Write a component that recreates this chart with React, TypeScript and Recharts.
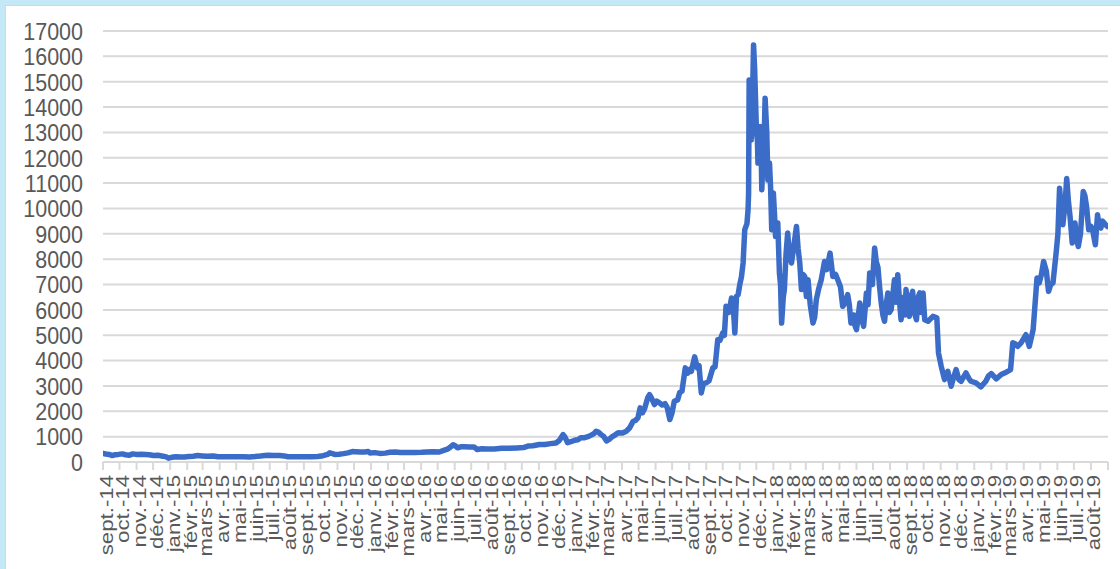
import React from 'react';
import { LineChart, Line, XAxis, YAxis, CartesianGrid } from 'recharts';

const tickLabels: string[] = [
  'sept.-14', 'oct.-14', 'nov.-14', 'déc.-14',
  'janv.-15', 'févr.-15', 'mars-15', 'avr.-15', 'mai-15', 'juin-15', 'juil.-15', 'août-15', 'sept.-15', 'oct.-15', 'nov.-15', 'déc.-15',
  'janv.-16', 'févr.-16', 'mars-16', 'avr.-16', 'mai-16', 'juin-16', 'juil.-16', 'août-16', 'sept.-16', 'oct.-16', 'nov.-16', 'déc.-16',
  'janv.-17', 'févr.-17', 'mars-17', 'avr.-17', 'mai-17', 'juin-17', 'juil.-17', 'août-17', 'sept.-17', 'oct.-17', 'nov.-17', 'déc.-17',
  'janv.-18', 'févr.-18', 'mars-18', 'avr.-18', 'mai-18', 'juin-18', 'juil.-18', 'août-18', 'sept.-18', 'oct.-18', 'nov.-18', 'déc.-18',
  'janv.-19', 'févr.-19', 'mars-19', 'avr.-19', 'mai-19', 'juin-19', 'juil.-19', 'août-19',
];

const yTicks: number[] = [0, 1000, 2000, 3000, 4000, 5000, 6000, 7000, 8000, 9000, 10000, 11000, 12000, 13000, 14000, 15000, 16000, 17000];

const prices2014: [string, number][] = [
  ['2014-09-17', 340], ['2014-09-22', 315], ['2014-09-28', 300], ['2014-10-04', 255], ['2014-10-09', 290],
  ['2014-10-15', 300], ['2014-10-22', 320], ['2014-10-28', 285], ['2014-11-04', 265], ['2014-11-10', 320],
  ['2014-11-18', 300], ['2014-11-25', 305], ['2014-12-03', 300], ['2014-12-10', 285], ['2014-12-18', 255],
  ['2014-12-26', 265],
];

const prices2015: [string, number][] = [
  ['2015-01-04', 230], ['2015-01-10', 200], ['2015-01-14', 150], ['2015-01-20', 185], ['2015-01-27', 210],
  ['2015-02-04', 195], ['2015-02-12', 200], ['2015-02-20', 215], ['2015-02-28', 225], ['2015-03-08', 255],
  ['2015-03-16', 240], ['2015-03-25', 225], ['2015-04-05', 235], ['2015-04-14', 205], ['2015-04-25', 210],
  ['2015-05-06', 210], ['2015-05-18', 210], ['2015-05-30', 205], ['2015-06-10', 200], ['2015-06-20', 215],
  ['2015-06-30', 235], ['2015-07-08', 255], ['2015-07-14', 265], ['2015-07-24', 260], ['2015-08-04', 255],
  ['2015-08-12', 240], ['2015-08-19', 205], ['2015-08-28', 205], ['2015-09-08', 210], ['2015-09-20', 205],
  ['2015-10-01', 210], ['2015-10-12', 220], ['2015-10-22', 250], ['2015-10-30', 300], ['2015-11-03', 360],
  ['2015-11-08', 330], ['2015-11-12', 300], ['2015-11-20', 305], ['2015-11-28', 330], ['2015-12-06', 360],
  ['2015-12-14', 410], ['2015-12-20', 405], ['2015-12-28', 390],
];

const prices2016: [string, number][] = [
  ['2016-01-05', 395], ['2016-01-12', 410], ['2016-01-15', 355], ['2016-01-24', 370], ['2016-02-02', 340],
  ['2016-02-12', 350], ['2016-02-20', 385], ['2016-03-01', 395], ['2016-03-10', 375], ['2016-03-22', 370],
  ['2016-04-05', 375], ['2016-04-18', 380], ['2016-04-28', 395], ['2016-05-08', 400], ['2016-05-20', 395],
  ['2016-05-28', 460], ['2016-06-05', 520], ['2016-06-10', 600], ['2016-06-14', 680], ['2016-06-19', 620],
  ['2016-06-22', 560], ['2016-06-28', 600], ['2016-07-05', 600], ['2016-07-14', 590], ['2016-07-22', 595],
  ['2016-07-28', 490], ['2016-08-05', 520], ['2016-08-15', 510], ['2016-08-28', 510], ['2016-09-10', 540],
  ['2016-09-24', 540], ['2016-10-08', 555], ['2016-10-20', 570], ['2016-10-28', 630], ['2016-11-06', 640],
  ['2016-11-18', 690], ['2016-11-28', 690], ['2016-12-08', 725], ['2016-12-18', 750], ['2016-12-24', 850],
  ['2016-12-31', 1080],
];

const prices2017: [string, number][] = [
  ['2017-01-03', 1000], ['2017-01-08', 760], ['2017-01-14', 800], ['2017-01-21', 860], ['2017-01-27', 880],
  ['2017-02-01', 953], ['2017-02-08', 960], ['2017-02-14', 1000], ['2017-02-20', 1060], ['2017-02-25', 1120],
  ['2017-03-01', 1214], ['2017-03-05', 1180], ['2017-03-09', 1100], ['2017-03-15', 1000], ['2017-03-20', 830],
  ['2017-03-25', 900], ['2017-03-29', 980], ['2017-04-04', 1060], ['2017-04-10', 1150], ['2017-04-17', 1140],
  ['2017-04-25', 1214], ['2017-05-01', 1350], ['2017-05-07', 1600], ['2017-05-12', 1650], ['2017-05-16', 1750],
  ['2017-05-20', 2135], ['2017-05-24', 1940], ['2017-05-28', 2100], ['2017-06-03', 2550], ['2017-06-06', 2660],
  ['2017-06-10', 2500], ['2017-06-15', 2265], ['2017-06-19', 2400], ['2017-06-24', 2332], ['2017-06-29', 2250],
  ['2017-07-04', 2300], ['2017-07-08', 2150], ['2017-07-13', 1675], ['2017-07-17', 1950], ['2017-07-21', 2396],
  ['2017-07-27', 2450], ['2017-07-31', 2750], ['2017-08-04', 2800], ['2017-08-10', 3712], ['2017-08-14', 3500],
  ['2017-08-18', 3650], ['2017-08-21', 3578], ['2017-08-27', 4145], ['2017-09-01', 3700], ['2017-09-04', 3800],
  ['2017-09-08', 2726], ['2017-09-12', 3100], ['2017-09-17', 3120], ['2017-09-22', 3200], ['2017-09-29', 3712],
  ['2017-10-03', 3750], ['2017-10-08', 4826], ['2017-10-12', 4800], ['2017-10-17', 5090], ['2017-10-20', 5000],
  ['2017-10-23', 6140], ['2017-10-28', 5900], ['2017-11-02', 6470], ['2017-11-05', 6200], ['2017-11-08', 5090],
  ['2017-11-11', 6530], ['2017-11-14', 6600], ['2017-11-17', 7000], ['2017-11-20', 7300], ['2017-11-23', 7850],
  ['2017-11-26', 9160], ['2017-11-30', 9400], ['2017-12-02', 9950], ['2017-12-03', 10600], ['2017-12-04', 15070],
  ['2017-12-06', 13500], ['2017-12-08', 12700], ['2017-12-10', 14200], ['2017-12-12', 16450], ['2017-12-14', 15500],
  ['2017-12-16', 14000], ['2017-12-17', 13230], ['2017-12-19', 12700], ['2017-12-20', 11790], ['2017-12-22', 12500],
  ['2017-12-24', 13230], ['2017-12-26', 12000], ['2017-12-27', 10740], ['2017-12-29', 12000], ['2017-12-31', 12500],
];

const prices2018: [string, number][] = [
  ['2018-01-02', 14350], ['2018-01-05', 13000], ['2018-01-07', 11130], ['2018-01-10', 11790], ['2018-01-12', 10800],
  ['2018-01-14', 9160], ['2018-01-17', 10610], ['2018-01-19', 9800], ['2018-01-21', 8900], ['2018-01-25', 9430],
  ['2018-01-28', 7450], ['2018-01-30', 7000], ['2018-02-01', 5480], ['2018-02-04', 6500], ['2018-02-06', 6800],
  ['2018-02-09', 8200], ['2018-02-12', 9030], ['2018-02-15', 8200], ['2018-02-19', 7850], ['2018-02-23', 8500],
  ['2018-02-28', 9290], ['2018-03-03', 8400], ['2018-03-06', 7850], ['2018-03-09', 6800], ['2018-03-12', 7400],
  ['2018-03-15', 7320], ['2018-03-18', 6530], ['2018-03-21', 7190], ['2018-03-25', 6200], ['2018-03-30', 5480],
  ['2018-04-02', 5700], ['2018-04-05', 6400], ['2018-04-09', 6800], ['2018-04-14', 7190], ['2018-04-20', 7910],
  ['2018-04-24', 7585], ['2018-04-30', 8240], ['2018-05-05', 7320], ['2018-05-10', 7400], ['2018-05-14', 7190],
  ['2018-05-19', 6900], ['2018-05-23', 6140], ['2018-05-28', 6300], ['2018-06-01', 6600], ['2018-06-04', 6200],
  ['2018-06-07', 5480], ['2018-06-12', 5800], ['2018-06-14', 5400], ['2018-06-17', 5220], ['2018-06-20', 5700],
  ['2018-06-23', 6270], ['2018-06-27', 5600], ['2018-06-30', 5350], ['2018-07-03', 6100], ['2018-07-05', 6670],
  ['2018-07-08', 6200], ['2018-07-11', 7450], ['2018-07-16', 7000], ['2018-07-20', 8440], ['2018-07-23', 7900],
  ['2018-07-26', 7680], ['2018-07-29', 6900], ['2018-08-01', 6270], ['2018-08-04', 5800], ['2018-08-07', 5550],
  ['2018-08-10', 6200], ['2018-08-13', 6670], ['2018-08-16', 5900], ['2018-08-19', 6010], ['2018-08-22', 6600],
  ['2018-08-25', 7190], ['2018-08-28', 6300], ['2018-08-31', 7390], ['2018-09-03', 6400], ['2018-09-06', 5610],
  ['2018-09-09', 6200], ['2018-09-11', 6500], ['2018-09-13', 5800], ['2018-09-15', 6800], ['2018-09-18', 6100],
  ['2018-09-21', 5745], ['2018-09-24', 6500], ['2018-09-27', 6730], ['2018-09-30', 5900], ['2018-10-04', 5610],
  ['2018-10-07', 6500], ['2018-10-10', 6670], ['2018-10-13', 5900], ['2018-10-16', 6670], ['2018-10-19', 5610],
  ['2018-10-25', 5550], ['2018-11-03', 5745], ['2018-11-10', 5690], ['2018-11-13', 4300], ['2018-11-18', 3775],
  ['2018-11-24', 3250], ['2018-11-30', 3580], ['2018-12-06', 2990], ['2018-12-10', 3300], ['2018-12-15', 3645],
  ['2018-12-20', 3250], ['2018-12-24', 3185],
];

const prices2019: [string, number][] = [
  ['2019-01-02', 3515], ['2019-01-07', 3300], ['2019-01-11', 3185], ['2019-01-20', 3120], ['2019-01-29', 2965],
  ['2019-02-07', 3185], ['2019-02-12', 3400], ['2019-02-17', 3490], ['2019-02-26', 3280], ['2019-03-07', 3450],
  ['2019-03-16', 3540], ['2019-03-24', 3645], ['2019-03-28', 4700], ['2019-04-02', 4650], ['2019-04-06', 4560],
  ['2019-04-12', 4700], ['2019-04-21', 5020], ['2019-04-27', 4560], ['2019-05-04', 5220], ['2019-05-11', 7260],
  ['2019-05-15', 7060], ['2019-05-19', 7400], ['2019-05-23', 7910], ['2019-05-28', 7520], ['2019-06-01', 6730],
  ['2019-06-05', 7000], ['2019-06-09', 7060], ['2019-06-15', 8300], ['2019-06-18', 9000], ['2019-06-21', 10800],
  ['2019-06-24', 10000], ['2019-06-27', 9360], ['2019-07-01', 10200], ['2019-07-04', 11180], ['2019-07-07', 10300],
  ['2019-07-10', 9690], ['2019-07-14', 8640], ['2019-07-17', 9200], ['2019-07-19', 9430], ['2019-07-22', 8800],
  ['2019-07-25', 8500], ['2019-07-29', 9000], ['2019-08-03', 10670], ['2019-08-06', 10500], ['2019-08-09', 10080],
  ['2019-08-13', 9160], ['2019-08-17', 9300], ['2019-08-20', 9160], ['2019-08-25', 8570], ['2019-08-29', 9750],
  ['2019-09-01', 9300], ['2019-09-04', 9230], ['2019-09-07', 9500], ['2019-09-10', 9430], ['2019-09-13', 9350],
  ['2019-09-16', 9290],
];

const toTime = (d: string) => Date.parse(d + 'T00:00:00Z');

const data = [...prices2014, ...prices2015, ...prices2016, ...prices2017, ...prices2018, ...prices2019].map(
  ([d, v]) => ({ t: toTime(d), v })
);

const xStart = Date.UTC(2014, 8, 17);
const xEnd = Date.UTC(2019, 8, 17);
const tickValues: number[] = [];
for (let i = 0; i <= tickLabels.length; i++) tickValues.push(Date.UTC(2014, 8 + i, 17));

const FONT = '"Liberation Sans", Arial, Helvetica, sans-serif';

const XTick = (props: any) => {
  const { x, y, payload } = props;
  const idx = tickValues.indexOf(payload.value);
  const label = idx >= 0 && idx < tickLabels.length ? tickLabels[idx] : '';
  return (
    <g transform={`translate(${x},${y}) scale(1,1.17) rotate(-90)`}>
      <text x={0} y={0} dy="0.5em" textAnchor="end" fill="#595959" fontSize={19} fontFamily={FONT}>
        {label}
      </text>
    </g>
  );
};

const YTick = (props: any) => {
  const { x, y, payload } = props;
  return (
    <g transform={`translate(${x},${y}) scale(1,1.14)`}>
      <text x={0} y={0} dy="0.36em" textAnchor="end" fill="#595959" fontSize={21.5} fontFamily={FONT}>
        {payload.value}
      </text>
    </g>
  );
};

export default function App() {
  return (
    <div style={{ position: 'fixed', left: 0, top: 0, width: 1120, height: 569, background: '#c5e8f7', overflow: 'hidden' }}>
      <div
        style={{
          position: 'absolute', left: 5, top: 5, width: 1120, height: 570, background: '#ffffff',
          borderTop: '1px solid #d6d6d6', borderLeft: '1px solid #d6d6d6',
        }}
      />
      <div style={{ position: 'absolute', left: 0, top: 0 }}>
        <LineChart width={1120} height={569} data={data} margin={{ top: 31, right: 12, bottom: 0, left: 0 }}>
          <CartesianGrid vertical={false} stroke="#d9d9d9" strokeWidth={2} />
          <XAxis
            dataKey="t"
            type="number"
            scale="linear"
            domain={[xStart, xEnd]}
            ticks={tickValues}
            interval={0}
            height={107}
            tickSize={8}
            tickMargin={5}
            axisLine={{ stroke: '#d9d9d9', strokeWidth: 2 }}
            tickLine={{ stroke: '#d9d9d9', strokeWidth: 2 }}
            tick={<XTick />}
            allowDataOverflow
          />
          <YAxis
            type="number"
            domain={[0, 17000]}
            ticks={yTicks}
            interval={0}
            width={103}
            axisLine={false}
            tickLine={false}
            tickSize={0}
            tickMargin={20}
            tick={<YTick />}
          />
          <Line
            dataKey="v"
            type="linear"
            stroke="#3a6cc8"
            strokeWidth={5.5}
            strokeLinejoin="round"
            strokeLinecap="round"
            dot={false}
            isAnimationActive={false}
          />
        </LineChart>
      </div>
    </div>
  );
}
